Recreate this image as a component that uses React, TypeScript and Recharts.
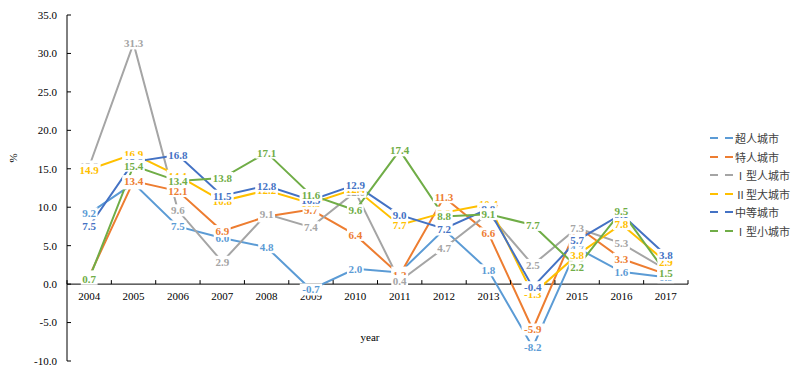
import { LineChart, Line, XAxis, YAxis, ReferenceLine, LabelList } from 'recharts'

const years = ['2004', '2005', '2006', '2007', '2008', '2009', '2010', '2011', '2012', '2013', '2014', '2015', '2016', '2017']
const superCities = [9.2, 13.1, 7.5, 6.0, 4.8, -0.7, 2.0, 1.5, 7.1, 1.8, -8.2, 4.7, 1.6, 0.9]
const megaCities = [1.0, 13.4, 12.1, 6.9, 8.8, 9.7, 6.4, 1.2, 11.3, 6.6, -5.9, 7.5, 3.3, 1.3]
const large1Cities = [15.3, 31.3, 9.6, 2.9, 9.1, 7.4, 12.0, 0.4, 4.7, 9.2, 2.5, 7.3, 5.3, 1.9]
const large2Cities = [14.9, 16.9, 14.1, 10.8, 12.2, 10.5, 12.4, 7.7, 9.3, 10.4, -1.3, 3.8, 7.8, 2.9]
const mediumCities = [7.5, 15.9, 16.8, 11.5, 12.8, 10.9, 12.9, 9.0, 7.2, 9.8, -0.4, 5.7, 9.1, 3.8]
const small1Cities = [0.7, 15.4, 13.4, 13.8, 17.1, 11.6, 9.6, 17.4, 8.8, 9.1, 7.7, 2.2, 9.5, 1.5]
const yTicks = [-10, -5, 0, 5, 10, 15, 20, 25, 30, 35]

const series = [
  { key: 's1', name: '超人城市', color: '#5B9BD5', values: superCities },
  { key: 's2', name: '特人城市', color: '#ED7D31', values: megaCities },
  { key: 's3', name: 'Ⅰ型人城市', color: '#A5A5A5', values: large1Cities },
  { key: 's4', name: 'Ⅱ型大城市', color: '#FFC000', values: large2Cities },
  { key: 's5', name: '中等城市', color: '#4472C4', values: mediumCities },
  { key: 's6', name: 'Ⅰ型小城市', color: '#70AD47', values: small1Cities },
]

const data = years.map((year, i) => {
  const row: Record<string, string | number> = { year }
  series.forEach((s) => (row[s.key] = s.values[i]))
  return row
})

const W = 784
const H = 361
const TOP = 7
const PLOT_H = 346
const PLOT_W = 621
const Y_MIN = -10
const Y_MAX = 35
const ZERO_Y = TOP + (Y_MAX / (Y_MAX - Y_MIN)) * PLOT_H
const BAND = PLOT_W / years.length
const FONT = '"Liberation Serif", "Noto Sans CJK SC", serif'

function YearTick(props: any) {
  const { x, index } = props
  return (
    <g>
      <line x1={x - BAND / 2} x2={x - BAND / 2} y1={ZERO_Y - 4} y2={ZERO_Y} stroke="#000" />
      {index === years.length - 1 && (
        <line x1={x + BAND / 2} x2={x + BAND / 2} y1={ZERO_Y - 4} y2={ZERO_Y} stroke="#000" />
      )}
      <text x={x} y={ZERO_Y + 16} textAnchor="middle" fontSize={11} fontFamily={FONT} fill="#000">
        {props.payload.value}
      </text>
    </g>
  )
}

function makeLabel(color: string) {
  return (props: any) => {
    const { x, y, value } = props
    if (value == null) return null
    const txt = Number(value).toFixed(1)
    const w = txt.length * 5.6
    return (
      <g>
        <rect x={x - w / 2} y={y - 6} width={w} height={12} fill="#fff" />
        <text x={x} y={y + 4} textAnchor="middle" fontSize={11} fontWeight="bold" fontFamily={FONT} fill={color}>
          {txt}
        </text>
      </g>
    )
  }
}

export default function App() {
  return (
    <div style={{ position: 'relative', width: W, height: H, fontFamily: FONT }}>
      <LineChart width={W} height={H} data={data} margin={{ top: TOP, right: 104, bottom: 0, left: 9 }}>
        <XAxis
          dataKey="year"
          height={8}
          axisLine={false}
          tickLine={false}
          tick={<YearTick />}
          interval={0}
          padding={{ left: BAND / 2, right: BAND / 2 }}
        />
        <YAxis
          domain={[Y_MIN, Y_MAX]}
          ticks={yTicks}
          width={50}
          tickFormatter={(v: number) => v.toFixed(1)}
          tick={{ fontSize: 11, fontFamily: FONT, fill: '#000' }}
          axisLine={{ stroke: '#000' }}
          tickLine={{ stroke: '#000' }}
          tickSize={-4}
          tickMargin={14}
          allowDataOverflow
        />
        <ReferenceLine y={0} stroke="#000" />
        {series.map((s) => (
          <Line
            key={s.key}
            dataKey={s.key}
            name={s.name}
            stroke={s.color}
            strokeWidth={2}
            dot={false}
            activeDot={false}
            isAnimationActive={false}
          />
        ))}
        {series.map((s) => (
          <Line
            key={s.key + 'lbl'}
            dataKey={s.key}
            stroke="none"
            dot={false}
            activeDot={false}
            legendType="none"
            isAnimationActive={false}
          >
            <LabelList dataKey={s.key} content={makeLabel(s.color)} />
          </Line>
        ))}
        <text x={362} y={333} textAnchor="middle" fontSize={11} fontFamily={FONT} fill="#000">
          year
        </text>
        <text x={9} y={150} textAnchor="middle" fontSize={11} fontFamily={FONT} fill="#000" transform="rotate(-90 9 150)">
          %
        </text>
      </LineChart>
      <div style={{ position: 'absolute', left: 702, top: 121, fontSize: 11, color: '#404040' }}>
        {series.map((s) => (
          <div key={s.key} style={{ display: 'flex', alignItems: 'center', height: 18.5 }}>
            <svg width={25} height={6}>
              <line x1={0} x2={23} y1={3} y2={3} stroke={s.color} strokeWidth={2} strokeDasharray="8 7" />
            </svg>
            <span>{s.name}</span>
          </div>
        ))}
      </div>
    </div>
  )
}
